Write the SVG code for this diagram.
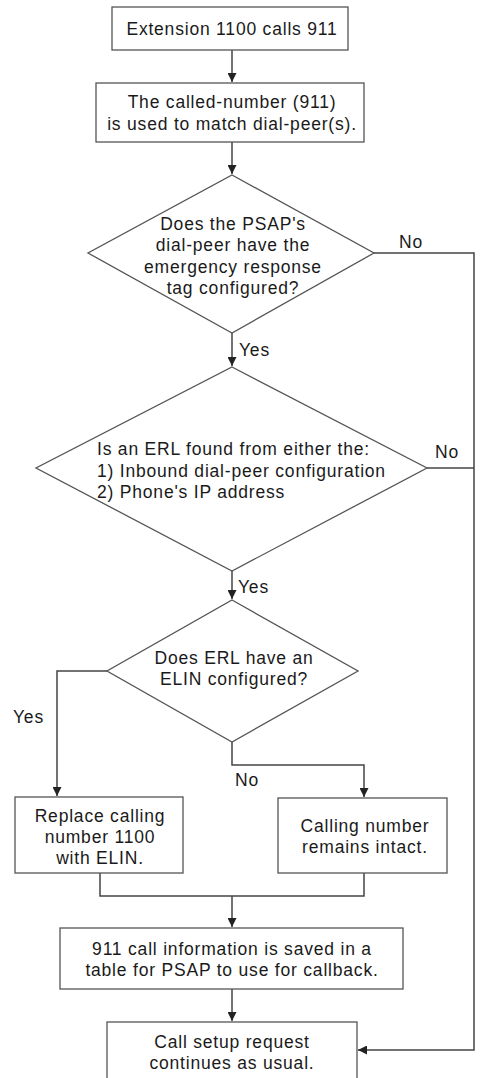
<svg xmlns="http://www.w3.org/2000/svg" width="498" height="1078" viewBox="0 0 498 1078">
<style>
.box{fill:#fff;stroke:#555;stroke-width:1.3}
.ln{fill:none;stroke:#444;stroke-width:1.5}
text{font-family:"Liberation Sans",Arial,sans-serif;font-size:17.5px;fill:#1a1a1a;letter-spacing:0.8px}
.c{text-anchor:middle}
</style>
<defs>
<marker id="ah" viewBox="0 0 10 10" refX="10" refY="5" markerWidth="9" markerHeight="9" markerUnits="userSpaceOnUse" orient="auto">
<path d="M0,0 L10,5 L0,10 z" fill="#222"/>
</marker>
</defs>
<rect width="498" height="1078" fill="#fff"/>
<g id="connectors">
<line class="ln" x1="232" y1="50" x2="232" y2="82" marker-end="url(#ah)"/>
<line class="ln" x1="232" y1="142" x2="232" y2="174" marker-end="url(#ah)"/>
<line class="ln" x1="232" y1="333" x2="232" y2="366" marker-end="url(#ah)"/>
<line class="ln" x1="232" y1="571" x2="232" y2="599" marker-end="url(#ah)"/>
<polyline class="ln" points="374,253 474,253 474,1050 358,1050" marker-end="url(#ah)"/>
<line class="ln" x1="427" y1="468" x2="474" y2="468"/>
<polyline class="ln" points="107,671 57,671 57,796" marker-end="url(#ah)"/>
<polyline class="ln" points="232,742 232,765 364,765 364,797" marker-end="url(#ah)"/>
<polyline class="ln" points="100,873 100,896 364,896 364,873"/>
<line class="ln" x1="232" y1="896" x2="232" y2="927" marker-end="url(#ah)"/>
<line class="ln" x1="232" y1="989" x2="232" y2="1021" marker-end="url(#ah)"/>
<text x="399" y="248">No</text>
<text x="239" y="356">Yes</text>
<text x="435" y="458">No</text>
<text x="238" y="593">Yes</text>
<text x="13" y="723">Yes</text>
<text x="235" y="786">No</text>
</g>
<g id="n1">
<rect class="box" x="112" y="7" width="236" height="43"/>
<text class="c" x="232" y="35">Extension 1100 calls 911</text>
</g>
<g id="n2">
<rect class="box" x="96" y="83" width="268" height="59"/>
<text class="c" x="232" y="108">The called-number (911)</text>
<text class="c" x="232" y="130">is used to match dial-peer(s).</text>
</g>
<g id="d1">
<polygon class="box" points="232,175 374,253 232,333 88,253"/>
<text class="c" x="233" y="230">Does the PSAP's</text>
<text class="c" x="233" y="251">dial-peer have the</text>
<text class="c" x="233" y="273">emergency response</text>
<text class="c" x="233" y="294">tag configured?</text>
</g>
<g id="d2">
<polygon class="box" points="232,367 427,468 232,571 36,468"/>
<text x="97" y="455">Is an ERL found from either the:</text>
<text x="97" y="477">1) Inbound dial-peer configuration</text>
<text x="97" y="498">2) Phone's IP address</text>
</g>
<g id="d3">
<polygon class="box" points="232,600 358,671 232,742 107,671"/>
<text class="c" x="234" y="664">Does ERL have an</text>
<text class="c" x="234" y="685">ELIN configured?</text>
</g>
<g id="n3">
<rect class="box" x="15" y="797" width="168" height="76"/>
<text class="c" x="100" y="822">Replace calling</text>
<text class="c" x="100" y="843">number 1100</text>
<text class="c" x="100" y="864">with ELIN.</text>
</g>
<g id="n4">
<rect class="box" x="278" y="798" width="169" height="75"/>
<text class="c" x="365" y="832">Calling number</text>
<text class="c" x="365" y="853">remains intact.</text>
</g>
<g id="n5">
<rect class="box" x="60" y="928" width="343" height="61"/>
<text class="c" x="232" y="955">911 call information is saved in a</text>
<text class="c" x="232" y="976">table for PSAP to use for callback.</text>
</g>
<g id="n6">
<rect class="box" x="107" y="1022" width="250" height="60"/>
<text class="c" x="232" y="1048">Call setup request</text>
<text class="c" x="232" y="1069">continues as usual.</text>
</g>
</svg>
